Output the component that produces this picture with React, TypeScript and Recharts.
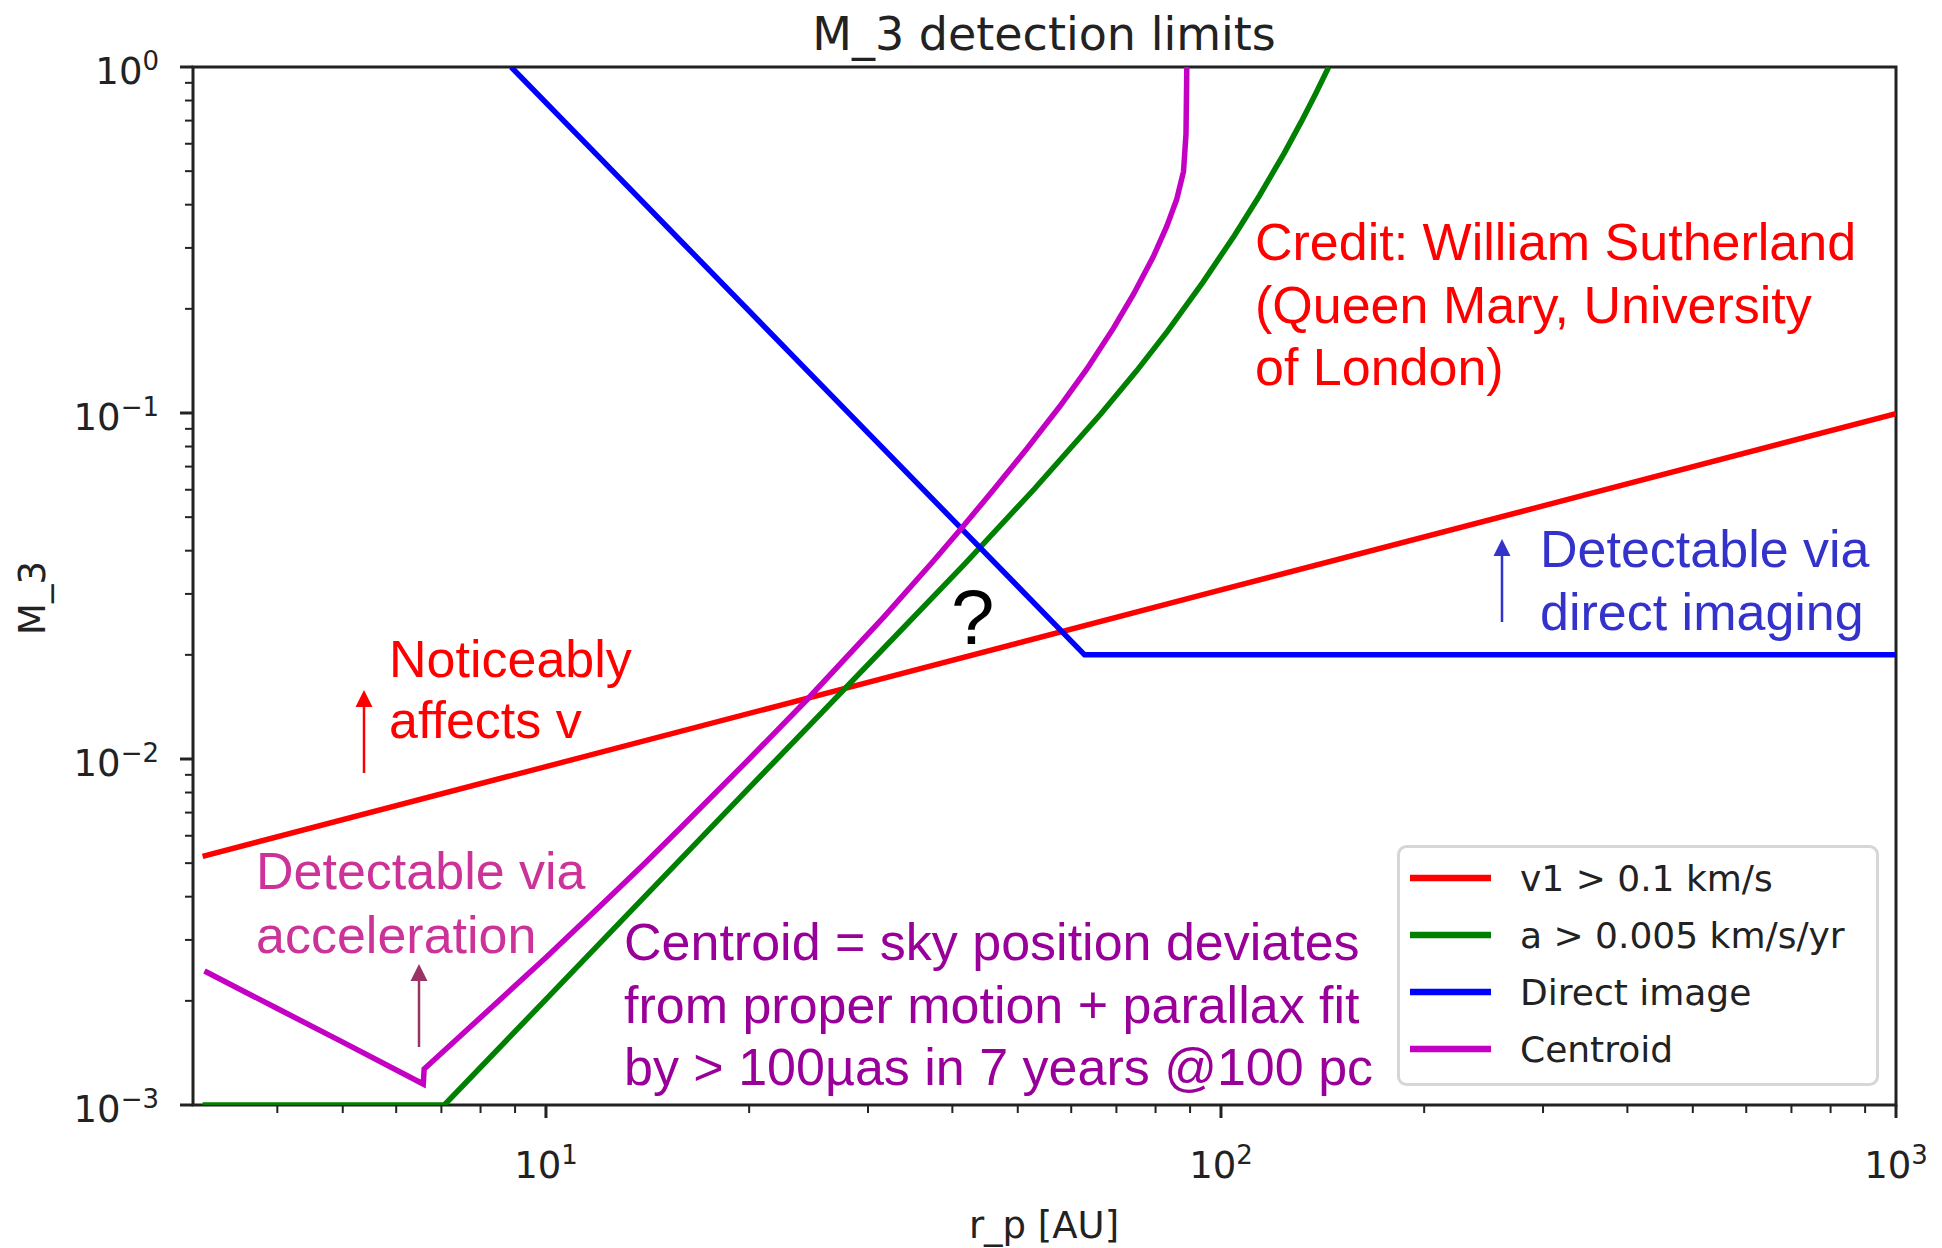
import React from 'react';
import { LineChart, Line, XAxis, YAxis, Legend, ReferenceArea } from 'recharts';

// ---------- data ----------
const velocityR = [3.1, 10, 30, 100, 300, 1000];
const velocityM = [0.00523, 0.00951, 0.01666, 0.0308, 0.0539, 0.0996];

const accelR = [3.1, 7.07, 10, 15, 20, 25, 33.6, 41.7, 52.9, 66.4, 75, 83.4, 94, 104.7, 114, 124.1, 131.4, 138, 144.4];
const accelM = [0.001, 0.001, 0.00202, 0.0046, 0.00825, 0.01296, 0.0236, 0.0366, 0.0603, 0.0995, 0.1324, 0.1727, 0.2385, 0.326, 0.4245, 0.564, 0.6927, 0.8347, 1.0];

const imageR = [8.88, 12, 16, 23.9, 30, 42.2, 62.8, 100, 300, 1000];
const imageM = [1.0, 0.548, 0.308, 0.138, 0.0876, 0.0443, 0.02, 0.02, 0.02, 0.02];

const centroidR = [3.12, 4, 5, 6.58, 6.6, 8, 10, 12, 14, 15.86, 20, 24.3, 31.7, 37.5, 41.5, 46, 51.5, 57.8, 63.3, 69.3, 74.2, 79.4, 83.1, 86.0, 88.0, 88.75, 89.0];
const centroidM = [0.00244, 0.0019, 0.00152, 0.00115, 0.00127, 0.00179, 0.00267, 0.00374, 0.00499, 0.00635, 0.0100, 0.01476, 0.0258, 0.03734, 0.04705, 0.05992, 0.07856, 0.1049, 0.1341, 0.1759, 0.2204, 0.2832, 0.346, 0.415, 0.4987, 0.64, 1.0];

const xMajorTicks = [10, 100, 1000];
const xMinorTicks = [4, 5, 6, 7, 8, 9, 20, 30, 40, 50, 60, 70, 80, 90, 200, 300, 400, 500, 600, 700, 800, 900];
const yMajorTicks = [0.001, 0.01, 0.1, 1];
const yMinorTicks = [0.002, 0.003, 0.004, 0.005, 0.006, 0.007, 0.008, 0.009, 0.02, 0.03, 0.04, 0.05, 0.06, 0.07, 0.08, 0.09, 0.2, 0.3, 0.4, 0.5, 0.6, 0.7, 0.8, 0.9];

const seriesNames = ['v1 > 0.1 km/s', 'a > 0.005 km/s/yr', 'Direct image', 'Centroid'];
const seriesColors = ['#ff0000', '#008000', '#0000ff', '#c400c4'];

const titleText = 'M_3 detection limits';
const xLabelText = 'r_p [AU]';
const yLabelText = 'M_3';

const creditLines = ['Credit: William Sutherland', '(Queen Mary, University', 'of London)'];
const imagingLines = ['Detectable via', 'direct imaging'];
const velocityLines = ['Noticeably', 'affects v'];
const accelLines = ['Detectable via', 'acceleration'];
const centroidLines = ['Centroid = sky position deviates', 'from proper motion + parallax fit', 'by > 100\u00b5as in 7 years @100 pc'];

// ---------- helpers ----------
const zip = (rs: number[], ms: number[]) => rs.map((r, i) => ({ r, m: ms[i] }));
const velocityData = zip(velocityR, velocityM);
const accelData = zip(accelR, accelM);
const imageData = zip(imageR, imageM);
const centroidData = zip(centroidR, centroidM);

const W = 1942;
const H = 1248;
const AXIS = '#222222';
const TICK_FONT = "'DejaVu Sans', sans-serif";
const ANN_FONT = "'Liberation Sans', Arial, sans-serif";
const LINE_W = 5.5;

const isMajor = (v: number) => Math.abs(Math.log10(v) - Math.round(Math.log10(v))) < 1e-6;
const expLabel = (v: number) => {
  const e = Math.round(Math.log10(v));
  return e < 0 ? '\u2212' + String(-e) : String(e);
};

function XTick(props: any) {
  const { x, y, payload } = props;
  const v = payload.value;
  const major = isMajor(v);
  return (
    <g>
      <line x1={x} x2={x} y1={y} y2={y + (major ? 13 : 8)} stroke={AXIS} strokeWidth={major ? 3 : 2} />
      {major && (
        <text x={x} y={y + 73} textAnchor="middle" fontFamily={TICK_FONT} fontSize={37} fill={AXIS}>
          10<tspan dy={-14} fontSize={26}>{expLabel(v)}</tspan>
        </text>
      )}
    </g>
  );
}

function YTick(props: any) {
  const { x, y, payload } = props;
  const v = payload.value;
  const major = isMajor(v);
  return (
    <g>
      <line x1={x - (major ? 13 : 8)} x2={x} y1={y} y2={y} stroke={AXIS} strokeWidth={major ? 3 : 2} />
      {major && (
        <text x={x - 34} y={y + 17} textAnchor="end" fontFamily={TICK_FONT} fontSize={37} fill={AXIS}>
          10<tspan dy={-14} fontSize={26}>{expLabel(v)}</tspan>
        </text>
      )}
    </g>
  );
}

function LegendBox(props: any) {
  const payload = [...(props.payload || [])].sort(
    (a: any, b: any) => seriesNames.indexOf(a.value) - seriesNames.indexOf(b.value)
  );
  return (
    <svg width={482} height={241} style={{ display: 'block' }}>
      <rect x={1.5} y={1.5} width={479} height={238} rx={8} fill="rgba(255,255,255,0.85)" stroke="#d6d6d6" strokeWidth={3} />
      {payload.map((p: any, i: number) => (
        <g key={i}>
          <line x1={13} x2={94} y1={33 + i * 57} y2={33 + i * 57} stroke={p.color} strokeWidth={6.5} />
          <text x={123} y={33 + i * 57 + 13} fontFamily={TICK_FONT} fontSize={36} fill={AXIS}>
            {p.value}
          </text>
        </g>
      ))}
    </svg>
  );
}

function Arrow({ x, y1, y2, color }: { x: number; y1: number; y2: number; color: string }) {
  return (
    <g>
      <line x1={x} x2={x} y1={y1} y2={y2 + 14} stroke={color} strokeWidth={2.5} />
      <polygon points={`${x - 8.5},${y2 + 17} ${x + 8.5},${y2 + 17} ${x},${y2}`} fill={color} />
    </g>
  );
}

function TextBlock({ lines, x, ys, color, size = 52 }: { lines: string[]; x: number; ys: number[]; color: string; size?: number }) {
  return (
    <g>
      {lines.map((t, i) => (
        <text key={i} x={x} y={ys[i]} fontFamily={ANN_FONT} fontSize={size} fill={color}>
          {t}
        </text>
      ))}
    </g>
  );
}

export default function App() {
  return (
    <div style={{ position: 'absolute', left: 0, top: 0, width: W, height: H, background: '#ffffff' }}>
      <LineChart width={W} height={H} margin={{ top: 67, right: 46, bottom: 0, left: 0 }}>
        <XAxis
          dataKey="r"
          type="number"
          scale="log"
          domain={[3, 1000]}
          allowDataOverflow
          ticks={[...xMinorTicks, ...xMajorTicks]}
          interval={0}
          tick={<XTick />}
          tickLine={false}
          axisLine={false}
          tickSize={0}
          tickMargin={0}
          height={143}
        />
        <YAxis
          dataKey="m"
          type="number"
          scale="log"
          domain={[0.001, 1]}
          allowDataOverflow
          ticks={[...yMinorTicks, ...yMajorTicks]}
          interval={0}
          tick={<YTick />}
          tickLine={false}
          axisLine={false}
          tickSize={0}
          tickMargin={0}
          width={193}
        />
        <Line data={velocityData} dataKey="m" name={seriesNames[0]} stroke={seriesColors[0]} strokeWidth={LINE_W} dot={false} activeDot={false} isAnimationActive={false} type="linear" />
        <Line data={accelData} dataKey="m" name={seriesNames[1]} stroke={seriesColors[1]} strokeWidth={LINE_W} dot={false} activeDot={false} isAnimationActive={false} type="linear" />
        <Line data={imageData} dataKey="m" name={seriesNames[2]} stroke={seriesColors[2]} strokeWidth={LINE_W} dot={false} activeDot={false} isAnimationActive={false} type="linear" />
        <Line data={centroidData} dataKey="m" name={seriesNames[3]} stroke={seriesColors[3]} strokeWidth={LINE_W} dot={false} activeDot={false} isAnimationActive={false} type="linear" />
        <ReferenceArea x1={3} x2={1000} y1={0.001} y2={1} fill="none" stroke={AXIS} strokeWidth={3} ifOverflow="visible" />
        <Legend
          layout="vertical"
          align="center"
          verticalAlign="middle"
          content={<LegendBox />}
          wrapperStyle={{ left: 1397, top: 845, width: 482, height: 241 }}
        />
      </LineChart>
      <svg width={W} height={H} style={{ position: 'absolute', left: 0, top: 0, pointerEvents: 'none' }}>
        <text x={1044} y={50} textAnchor="middle" fontFamily={TICK_FONT} fontSize={46} fill={AXIS}>
          {titleText}
        </text>
        <text x={1044} y={1238} textAnchor="middle" fontFamily={TICK_FONT} fontSize={37} fill={AXIS}>
          {xLabelText}
        </text>
        <text x={45} y={598} textAnchor="middle" fontFamily={TICK_FONT} fontSize={37} fill={AXIS} transform="rotate(-90 45 598)">
          {yLabelText}
        </text>

        <TextBlock lines={creditLines} x={1255} ys={[260, 323, 385]} color="#ff0000" />
        <TextBlock lines={imagingLines} x={1540} ys={[567, 630]} color="#3333cc" />
        <TextBlock lines={velocityLines} x={389} ys={[677, 738]} color="#ff0000" />
        <TextBlock lines={accelLines} x={256} ys={[889, 953]} color="#cc3399" />
        <TextBlock lines={centroidLines} x={624} ys={[960, 1023, 1085]} color="#990099" />
        <text x={951} y={644} fontFamily={ANN_FONT} fontSize={78} fill="#000000">?</text>

        <Arrow x={1502} y1={622} y2={539} color="#3333cc" />
        <Arrow x={364} y1={773} y2={690} color="#ff0000" />
        <Arrow x={419} y1={1047} y2={964} color="#993366" />
      </svg>
    </div>
  );
}
